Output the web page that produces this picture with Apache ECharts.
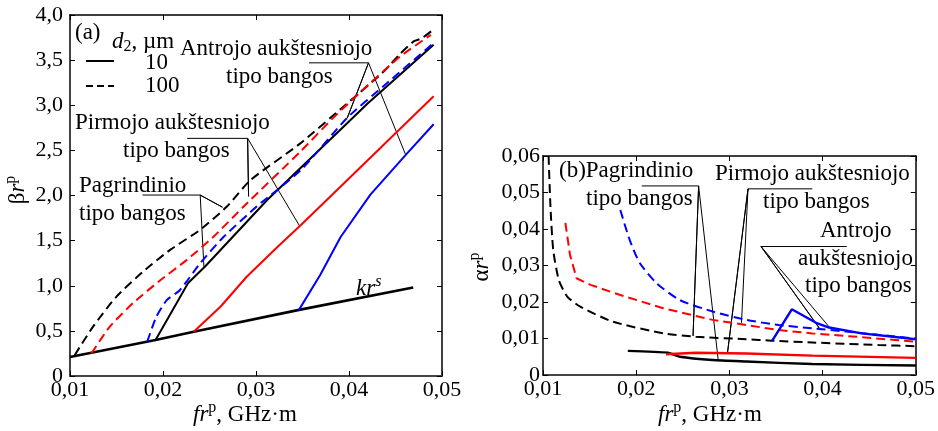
<!DOCTYPE html>
<html>
<head>
<meta charset="utf-8">
<script src="https://cdn.jsdelivr.net/npm/echarts@6/dist/echarts.min.js"></script>
<style>
  html, body { margin: 0; padding: 0; background: #fff; }
  #chart { width: 938px; height: 431px; }
</style>
</head>
<body>
<div id="chart"></div>
<script>
// ---- Panel (a): phase constant beta*r^p versus f*r^p ----
const krsX = [0.0100, 0.0192, 0.0233, 0.0345, 0.0469];
const krsBeta = [0.21, 0.40, 0.49, 0.73, 0.98];

const fund10X = [0.0192, 0.0227, 0.0245, 0.0312, 0.0398, 0.0420, 0.0491];
const fund10Beta = [0.40, 1.03, 1.21, 1.95, 2.80, 3.02, 3.67];
const fund100X = [0.0105, 0.0125, 0.0150, 0.0179, 0.0208, 0.0240, 0.0269, 0.0294, 0.0348, 0.0398, 0.0437, 0.0455, 0.0470, 0.0478, 0.0491];
const fund100Beta = [0.23, 0.55, 0.88, 1.16, 1.40, 1.62, 1.88, 2.17, 2.58, 3.02, 3.37, 3.57, 3.71, 3.74, 3.84];

const first10X = [0.0233, 0.0262, 0.0290, 0.0323, 0.0348, 0.0383, 0.0419, 0.0455, 0.0491];
const first10Beta = [0.49, 0.77, 1.10, 1.43, 1.67, 2.02, 2.38, 2.74, 3.10];
const first100X = [0.0123, 0.0143, 0.0168, 0.0197, 0.0226, 0.0254, 0.0287, 0.0348, 0.0383, 0.0419, 0.0455, 0.0488];
const first100Beta = [0.25, 0.55, 0.81, 1.06, 1.29, 1.54, 1.88, 2.49, 2.86, 3.21, 3.54, 3.78];

const second10X = [0.0346, 0.0369, 0.0391, 0.0423, 0.0461, 0.0491];
const second10Beta = [0.73, 1.12, 1.54, 2.01, 2.45, 2.79];
const second100X = [0.0183, 0.0193, 0.0204, 0.0218, 0.0240, 0.0265, 0.0301, 0.0348, 0.0398, 0.0437, 0.0491];
const second100Beta = [0.38, 0.66, 0.84, 0.95, 1.25, 1.54, 1.88, 2.28, 2.86, 3.21, 3.69];

// ---- Panel (b): attenuation alpha*r^p versus f*r^p ----
const fund10BX = [0.0191, 0.0234, 0.0247, 0.0282, 0.0318, 0.0389, 0.0500];
const fund10Alpha = [0.0066, 0.0061, 0.0050, 0.0041, 0.0037, 0.0030, 0.0026];
const fund100BX = [0.0106, 0.0108, 0.0111, 0.0117, 0.0126, 0.0140, 0.0175, 0.0229, 0.0264, 0.0318, 0.0345, 0.0389, 0.0460, 0.0500];
const fund100Alpha = [0.0600, 0.0461, 0.0342, 0.0260, 0.0215, 0.0187, 0.0146, 0.0114, 0.0105, 0.0098, 0.0094, 0.0089, 0.0082, 0.0079];

const first10BX = [0.0232, 0.0264, 0.0318, 0.0389, 0.0500];
const first10Alpha = [0.0057, 0.0061, 0.0059, 0.0053, 0.0047];
const first100BX = [0.0124, 0.0129, 0.0136, 0.0151, 0.0183, 0.0229, 0.0282, 0.0318, 0.0353, 0.0389, 0.0425, 0.0478, 0.0500];
const first100Alpha = [0.0417, 0.0329, 0.0265, 0.0247, 0.0219, 0.0183, 0.0151, 0.0137, 0.0123, 0.0114, 0.0107, 0.0096, 0.0091];

const second10BX = [0.0346, 0.0367, 0.0393, 0.0407, 0.0442, 0.0500];
const second10Alpha = [0.0094, 0.0180, 0.0143, 0.0130, 0.0114, 0.0098];
const second100BX = [0.0183, 0.0193, 0.0204, 0.0222, 0.0247, 0.0282, 0.0318, 0.0353, 0.0389, 0.0425, 0.0460, 0.0500];
const second100Alpha = [0.0452, 0.0370, 0.0306, 0.0251, 0.0205, 0.0174, 0.0151, 0.0137, 0.0128, 0.0119, 0.0110, 0.0100];

// ---- Leader lines for the wave-type notes, in data units (underline, then the two pointers) ----
const leadFundA = [[0.0178, 2.005], [0.0240, 2.005], [0.0264, 1.87], [0.0240, 2.005], [0.0244, 1.21]];
const leadFirstA = [[0.0226, 2.633], [0.0291, 2.633], [0.0292, 1.99], [0.0291, 2.633], [0.0347, 1.66]];
const leadSecondA = [[0.0357, 3.47], [0.0421, 3.47], [0.0398, 2.855], [0.0421, 3.47], [0.0461, 2.449]];
const leadFundB = [[0.0206, 0.0518], [0.0267, 0.0518], [0.0261, 0.0107], [0.0267, 0.0518], [0.0288, 0.0041]];
const leadFirstB = [[0.0389, 0.0510], [0.0320, 0.0510], [0.0298, 0.0061], [0.0320, 0.0510], [0.0313, 0.0143]];
const leadSecondB = [[0.0426, 0.0352], [0.0334, 0.0352], [0.0398, 0.0123], [0.0334, 0.0352], [0.0407, 0.0132]];

const FONT = "'Liberation Serif', 'Times New Roman', serif";
const RED = '#ff0000', BLUE = '#0000ff', BLACK = '#000000';
const DASH = [9, 5];

const zip = (xs, ys) => xs.map((x, i) => [x, ys[i]]);
const comma = d => v => (v === 0 ? '0' : v.toFixed(d).replace('.', ','));

function curve(grid, xs, ys, color, dashed, width, smooth) {
  return {
    type: 'line', xAxisIndex: grid * 2, yAxisIndex: grid * 2,
    data: zip(xs, ys), showSymbol: false, silent: true, animation: false,
    smooth: smooth || false,
    lineStyle: { color: color, width: width || 2, type: dashed ? DASH : 'solid' },
    z: 3
  };
}
function leader(grid, pts) {
  return {
    type: 'line', xAxisIndex: grid * 2, yAxisIndex: grid * 2,
    data: pts, showSymbol: false, silent: true, animation: false,
    lineStyle: { color: BLACK, width: 1 }, z: 2
  };
}

function xAxes(grid) {
  const base = {
    gridIndex: grid, type: 'value', min: 0.01, max: 0.05, interval: 0.01,
    splitLine: { show: false }
  };
  return [
    Object.assign({}, base, {
      position: 'bottom',
      axisLine: { show: true, onZero: false, lineStyle: { color: '#444', width: 2 } },
      axisTick: { show: true, inside: true, length: 5, lineStyle: { color: '#000', width: 1 } },
      axisLabel: { formatter: comma(2), fontFamily: FONT, fontSize: 22, color: '#000', margin: 3 }
    }),
    Object.assign({}, base, {
      position: 'top',
      axisLine: { show: true, onZero: false, lineStyle: { color: '#000', width: 1.5 } },
      axisTick: { show: true, inside: true, length: 5, lineStyle: { color: '#000', width: 1 } },
      axisLabel: { show: false }
    })
  ];
}
function yAxes(grid, max, interval, digits, margin) {
  const base = {
    gridIndex: grid, type: 'value', min: 0, max: max, interval: interval,
    splitLine: { show: false }
  };
  return [
    Object.assign({}, base, {
      position: 'left',
      axisLine: { show: true, onZero: false, lineStyle: { color: '#444', width: 2 } },
      axisTick: { show: true, inside: true, length: 5, lineStyle: { color: '#000', width: 1 } },
      axisLabel: { formatter: comma(digits), fontFamily: FONT, fontSize: 22, color: '#000', margin: margin }
    }),
    Object.assign({}, base, {
      position: 'right',
      axisLine: { show: true, onZero: false, lineStyle: { color: '#000', width: 1.5 } },
      axisTick: { show: true, inside: true, length: 5, lineStyle: { color: '#000', width: 1 } },
      axisLabel: { show: false }
    })
  ];
}

function txt(x, y, text, opts) {
  opts = opts || {};
  const size = opts.size || 23;
  return {
    type: 'text', x: x, y: y, rotation: opts.rotation || 0, silent: true, z: 10,
    style: {
      text: text,
      fontFamily: FONT, fontSize: size, fontStyle: opts.italic ? 'italic' : 'normal',
      fill: '#000',
      align: opts.align || 'left', verticalAlign: 'middle',
      textAlign: opts.align || 'left', textVerticalAlign: 'middle',
      rich: opts.rich
    }
  };
}
const richBase = {
  n: { fontFamily: FONT, fontSize: 23, color: '#000' },
  i: { fontFamily: FONT, fontSize: 23, fontStyle: 'italic', color: '#000' },
  sup: { fontFamily: FONT, fontSize: 16, color: '#000', padding: [0, 0, 14, 0] },
  supi: { fontFamily: FONT, fontSize: 16, fontStyle: 'italic', color: '#000', padding: [0, 0, 14, 0] },
  sub: { fontFamily: FONT, fontSize: 16, color: '#000', padding: [10, 0, 0, 0] }
};

const option = {
  backgroundColor: '#fff',
  animation: false,
  grid: [
    { left: 70, top: 15, width: 372, height: 361 },
    { left: 543, top: 156, width: 374, height: 219 }
  ],
  xAxis: xAxes(0).concat(xAxes(1)),
  yAxis: yAxes(0, 4, 0.5, 1, 7).concat(yAxes(1, 0.06, 0.01, 2, 3)),
  series: [
    curve(0, krsX, krsBeta, BLACK, false, 2.6),
    curve(0, fund10X, fund10Beta, BLACK, false),
    curve(0, fund100X, fund100Beta, BLACK, true, 2, 0.2),
    curve(0, first10X, first10Beta, RED, false),
    curve(0, first100X, first100Beta, RED, true, 2, 0.2),
    curve(0, second10X, second10Beta, BLUE, false),
    curve(0, second100X, second100Beta, BLUE, true, 2, 0.2),
    leader(0, leadFundA), leader(0, leadFirstA), leader(0, leadSecondA),

    curve(1, fund10BX, fund10Alpha, BLACK, false, 2.4, 0.2),
    curve(1, fund100BX, fund100Alpha, BLACK, true, 2, 0.2),
    curve(1, first10BX, first10Alpha, RED, false, 2.4),
    curve(1, first100BX, first100Alpha, RED, true),
    curve(1, second10BX, second10Alpha, BLUE, false, 2.4),
    curve(1, second100BX, second100Alpha, BLUE, true, 2, 0.2),
    leader(1, leadFundB), leader(1, leadFirstB), leader(1, leadSecondB)
  ],
  graphic: [
    // panel (a) notes
    txt(75, 33, '(a)'),
    txt(112, 42, '{i|d}{sub|2}{n|, µm}', { rich: richBase }),
    { type: 'line', silent: true, shape: { x1: 86, y1: 61, x2: 114, y2: 61 }, style: { stroke: '#000', lineWidth: 2 } },
    { type: 'line', silent: true, shape: { x1: 86, y1: 86, x2: 114, y2: 86 }, style: { stroke: '#000', lineWidth: 2, lineDash: [7, 4] } },
    txt(145, 63, '10'),
    txt(145, 86, '100'),
    txt(180, 49, 'Antrojo aukštesniojo'),
    txt(226, 77, 'tipo bangos'),
    txt(75, 123, 'Pirmojo aukštesniojo'),
    txt(123, 151, 'tipo bangos'),
    txt(79, 186, 'Pagrindinio'),
    txt(79, 214, 'tipo bangos'),
    txt(356, 289, '{i|kr}{supi|s}', { rich: richBase }),
    txt(193, 415, '{i|fr}{sup|p}{n|, GHz·m}', { rich: richBase }),
    txt(18, 190, '{n|β}{i|r}{sup|p}', { rich: richBase, rotation: Math.PI / 2, align: 'center' }),

    // panel (b) notes
    txt(559, 171, '(b)Pagrindinio'),
    txt(586, 199, 'tipo bangos'),
    txt(715, 174, 'Pirmojo aukštesniojo'),
    txt(763, 202, 'tipo bangos'),
    txt(820, 231, 'Antrojo'),
    txt(798, 259, 'aukštesniojo'),
    txt(805, 286, 'tipo bangos'),
    txt(658, 415, '{i|fr}{sup|p}{n|, GHz·m}', { rich: richBase }),
    txt(482, 267, '{n|α}{i|r}{sup|p}', { rich: richBase, rotation: Math.PI / 2, align: 'center' })
  ]
};

const chart = echarts.init(document.getElementById('chart'), null, { renderer: 'canvas' });
chart.setOption(option);
</script>
</body>
</html>
